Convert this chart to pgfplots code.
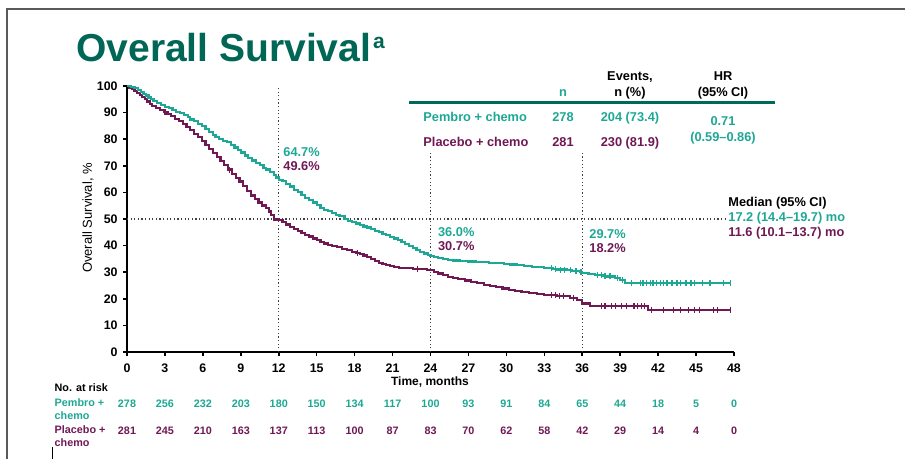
\documentclass[border=0pt]{standalone}
\usepackage{fontspec}
\setmainfont{Liberation Sans}
\usepackage{pgfplots}
\pgfplotsset{compat=1.18}

\definecolor{pembro}{RGB}{28,168,148}
\definecolor{placebo}{RGB}{112,24,84}
\definecolor{titlegreen}{RGB}{0,102,85}
\definecolor{rulegreen}{RGB}{0,104,92}
\definecolor{framegray}{RGB}{90,90,90}

\newcommand{\fs}[1]{\fontsize{#1}{#1}\selectfont}

\begin{document}
\begin{tikzpicture}
\path[use as bounding box] (0pt,0pt) rectangle (452.5pt,229.5pt);
% slide frame
\draw[framegray, line width=1pt] (3.35pt,0pt) -- (3.35pt,225pt) -- (452.5pt,225pt);
\draw[black, line width=0.5pt] (26.15pt,0pt) -- (26.15pt,6pt);

% title
\node[anchor=base west, inner sep=0pt, text=titlegreen, font=\fs{19.5}\bfseries]
  at (38pt,198.6pt) {Overall Survival\hspace{1pt}\raisebox{6.7pt}{\fs{10.5}a}};

\begin{axis}[
  at={(63.5pt,53.5pt)}, anchor=south west,
  scale only axis, width=303.5pt, height=133pt,
  xmin=0, xmax=48, ymin=0, ymax=100,
  axis lines=left,
  axis line style={-, line width=0.8pt, black},
  xtick={0,3,...,48}, ytick={0,10,...,100},
  tick align=outside, major tick length=2pt,
  tick style={line width=0.8pt, black},
  /pgf/number format/assume math mode=true,
  xticklabel style={font=\fs{6.2}\bfseries, anchor=base, inner sep=0pt, yshift=-8.4pt},
  yticklabel style={font=\fs{6.2}\bfseries, anchor=east, inner sep=0pt, xshift=-2.5pt},
  clip=false,
]
% reference lines
\draw[black!75, line width=0.6pt, dash pattern=on 0.6pt off 1.2pt] (axis cs:0,50) -- (axis cs:47.3,50);
\draw[black!75, line width=0.6pt, dash pattern=on 0.6pt off 1.2pt] (axis cs:12,0) -- (axis cs:12,100);
\draw[black!75, line width=0.6pt, dash pattern=on 0.6pt off 1.2pt] (axis cs:24,0) -- (axis cs:24,75);
\draw[black!75, line width=0.6pt, dash pattern=on 0.6pt off 1.2pt] (axis cs:36,0) -- (axis cs:36,75);

% Placebo + chemo
\addplot[const plot, placebo, line width=1.1pt] coordinates {
(0,100) (0.2,99.3) (0.4,98.8) (0.6,98.0) (0.8,97.3) (1.0,96.6) (1.2,95.8)
(1.4,95.0) (1.6,94.2) (1.8,93.3) (2.0,92.6) (2.3,91.8) (2.6,91.0) (2.9,90.2)
(3.2,89.4) (3.5,88.6) (3.8,87.6) (4.1,86.8) (4.4,85.8) (4.7,84.7) (5.0,83.5)
(5.3,82.1) (5.6,80.8) (5.9,79.4) (6.2,77.9) (6.5,76.3) (6.8,74.8) (7.1,73.2)
(7.4,71.8) (7.7,70.3) (8.0,68.6) (8.3,66.9) (8.6,65.4) (8.9,64.1) (9.2,62.5)
(9.5,60.6) (9.8,58.8) (10.1,57.4) (10.4,56.2) (10.7,55.1) (11.0,54.0)
(11.2,52.8) (11.4,51.6) (11.6,49.8) (12.0,49.6) (12.3,48.8) (12.6,47.9)
(12.9,47.1) (13.2,46.3) (13.5,45.6) (13.8,44.8) (14.1,44.1) (14.4,43.4)
(14.7,42.7) (15.0,42.0) (15.3,41.4) (15.6,40.8) (15.9,40.3) (16.2,39.9)
(16.6,39.4) (17.0,38.8) (17.4,38.2) (17.8,37.7) (18.1,37.3) (18.4,36.9)
(18.7,36.3) (19.0,35.6) (19.3,34.9) (19.6,34.2) (19.9,33.6) (20.2,33.0)
(20.5,32.6) (20.8,32.2) (21.1,31.9) (21.5,31.7) (22.0,31.5) (22.6,31.3)
(23.2,31.1) (23.7,30.9) (24.0,30.7) (24.3,30.0) (24.6,29.5) (25.0,28.8)
(25.4,28.3) (25.8,27.9) (26.2,27.4) (26.7,26.9) (27.2,26.3) (27.7,25.8)
(28.2,25.3) (28.7,24.9) (29.2,24.4) (29.7,23.9) (30.2,23.4) (30.7,22.9)
(31.2,22.6) (31.8,22.2) (32.4,21.9) (33.0,21.5) (34.0,21.0) (35.0,20.2)
(35.6,19.5) (36.0,18.2) (36.6,17.3) (41.0,17.3) (41.2,15.8) (47.7,15.8)
};
% Pembro + chemo
\addplot[const plot, pembro, line width=1.1pt] coordinates {
(0,100) (0.3,99.6) (0.6,99.3) (0.9,98.6) (1.1,97.8) (1.3,97.1) (1.5,96.4)
(1.7,95.7) (1.9,95.0) (2.1,94.3) (2.4,93.6) (2.7,92.9) (3.0,92.1) (3.3,91.6)
(3.6,91.0) (3.9,90.3) (4.2,89.9) (4.5,89.2) (4.8,88.2) (5.0,87.4) (5.3,86.7)
(5.6,85.8) (5.9,84.9) (6.2,83.8) (6.5,82.7) (6.8,81.6) (7.0,80.8) (7.3,80.1)
(7.6,79.4) (7.9,78.8) (8.2,77.9) (8.5,76.9) (8.8,75.9) (9.0,75.0) (9.3,73.9)
(9.6,72.9) (9.9,72.0) (10.2,71.2) (10.5,70.3) (10.8,69.3) (11.0,68.6)
(11.3,67.6) (11.6,66.5) (11.8,65.6) (12.0,64.7) (12.3,64.2) (12.6,63.2)
(12.9,62.2) (13.2,61.0) (13.5,60.0) (13.8,58.9) (14.1,57.9) (14.4,57.1)
(14.7,56.2) (15.0,55.2) (15.3,54.2) (15.6,53.5) (15.9,53.0) (16.2,52.4)
(16.5,51.6) (16.8,51.0) (17.2,50.0) (17.5,49.3) (17.8,48.8) (18.1,48.3)
(18.4,47.7) (18.7,47.2) (19.0,46.8) (19.3,46.1) (19.6,45.6) (19.9,45.0)
(20.2,44.4) (20.5,43.9) (20.8,43.3) (21.1,42.7) (21.4,42.1) (21.7,41.4)
(22.0,40.6) (22.3,39.8) (22.6,39.0) (22.9,38.3) (23.2,37.6) (23.5,37.0)
(23.8,36.4) (24.0,36.0) (24.3,35.7) (24.6,35.3) (25.0,35.0) (25.4,34.6)
(25.8,34.4) (26.3,34.2) (27.0,34.0) (27.6,33.9) (28.0,33.8) (28.6,33.6)
(29.2,33.4) (29.8,33.1) (30.3,32.9) (30.8,32.7) (31.4,32.4) (32.0,32.1)
(32.5,31.9) (33.0,31.6) (33.7,31.3) (34.0,31.0) (34.8,30.7) (35.2,30.5)
(35.8,30.1) (36.0,29.7) (36.5,29.3) (37.0,28.9) (37.6,28.6) (38.0,28.4)
(38.6,27.7) (39.0,27.0) (39.4,25.8) (47.7,25.8)
};
% censored observations
\addplot[only marks, mark=|, mark size=1.5pt, mark options={line width=0.6pt}, placebo] coordinates {
(3.0,90.2) (8.1,68.6) (18.2,37.3) (23.0,31.3)
(33.6,21.5) (33.9,21.5) (34.2,21.0) (34.5,21.0) (35.3,20.2)
(37.5,17.3) (37.8,17.3) (38.3,17.3) (38.6,17.3) (39.1,17.3) (39.5,17.3)
(40.1,17.3) (40.4,17.3) (40.7,17.3) (40.9,17.3)
(41.5,15.8) (42.4,15.8) (43.2,15.8) (43.8,15.8) (44.4,15.8) (44.9,15.8)
(45.3,15.8) (46.4,15.8) (46.7,15.8) (47.7,15.8)
};
\addplot[only marks, mark=|, mark size=1.5pt, mark options={line width=0.6pt}, pembro] coordinates {
(33.6,31.6) (33.9,31.3) (34.3,31.0) (34.6,31.0) (35.1,30.7) (35.5,30.5) (35.9,30.1)
(37.2,28.9) (37.5,28.9) (37.8,28.6) (38.2,28.4) (38.8,27.7) (39.2,27.0)
(39.9,25.8) (40.6,25.8) (40.8,25.8) (41.1,25.8) (41.4,25.8) (41.6,25.8)
(41.9,25.8) (42.2,25.8) (42.4,25.8) (42.7,25.8) (43.1,25.8) (43.5,25.8)
(43.8,25.8) (44.2,25.8) (44.6,25.8) (44.9,25.8) (45.5,25.8) (46.1,25.8)
(47.2,25.8) (47.7,25.8)
};
\end{axis}

% axis titles
\node[rotate=90, inner sep=0pt, font=\fs{6.5}] at (44pt,120.5pt) {Overall Survival, \%};
\node[anchor=base, inner sep=0pt, font=\fs{6}\bfseries] at (215pt,36.85pt) {Time, months};

% landmark annotations
\begin{scope}[every node/.style={anchor=base west, inner sep=0pt, font=\fs{6.4}\bfseries}]
\node[text=pembro]  at (141.5pt,151.2pt) {64.7\%};
\node[text=placebo] at (141.5pt,144.2pt) {49.6\%};
\node[text=pembro]  at (218.85pt,111.2pt) {36.0\%};
\node[text=placebo] at (218.85pt,104.35pt) {30.7\%};
\node[text=pembro]  at (294.5pt,110.2pt) {29.7\%};
\node[text=placebo] at (294.5pt,103.2pt) {18.2\%};
\node[text=black]   at (364pt,126.35pt) {Median (95\% CI)};
\node[text=pembro]  at (364pt,118.85pt) {17.2 (14.4--19.7) mo};
\node[text=placebo] at (364pt,111.05pt) {11.6 (10.1--13.7) mo};
\node[text=pembro]  at (211.5pt,168.85pt) {Pembro + chemo};
\node[text=placebo] at (211.5pt,156.35pt) {Placebo + chemo};
\end{scope}

% summary table
\begin{scope}[every node/.style={anchor=base, inner sep=0pt, font=\fs{6.4}\bfseries}]
\node at (315pt,189.35pt) {Events,};
\node at (315pt,181.2pt) {n (\%)};
\node at (361.5pt,189.35pt) {HR};
\node at (361.5pt,181.2pt) {(95\% CI)};
\node[text=pembro] at (281.5pt,181.2pt) {n};
\node[text=pembro]  at (281.5pt,168.85pt) {278};
\node[text=pembro]  at (315pt,168.85pt) {204 (73.4)};
\node[text=placebo] at (281.5pt,156.35pt) {281};
\node[text=placebo] at (315pt,156.35pt) {230 (81.9)};
\node[text=pembro]  at (361.5pt,166.7pt) {0.71};
\node[text=pembro]  at (361.5pt,158.55pt) {(0.59--0.86)};
\end{scope}
\draw[rulegreen, line width=1.25pt] (204.5pt,178.15pt) -- (387.5pt,178.15pt);

% number at risk
\begin{scope}[every node/.style={anchor=base west, inner sep=0pt, font=\fs{5.4}\bfseries}]
\node[text=black]   at (27.15pt,33.8pt) {No. at risk};
\node[text=pembro]  at (27.15pt,26.4pt) {Pembro +};
\node[text=pembro]  at (27.15pt,19.6pt) {chemo};
\node[text=placebo] at (27.15pt,12.55pt) {Placebo +};
\node[text=placebo] at (27.15pt,6.0pt) {chemo};
\end{scope}
\foreach \v [count=\i from 0] in {278,256,232,203,180,150,134,117,100,93,91,84,65,44,18,5,0}
  \node[anchor=base, inner sep=0pt, font=\fs{5.4}\bfseries, text=pembro] at ({63.5pt+\i*18.969pt},25.9pt) {\v};
\foreach \v [count=\i from 0] in {281,245,210,163,137,113,100,87,83,70,62,58,42,29,14,4,0}
  \node[anchor=base, inner sep=0pt, font=\fs{5.4}\bfseries, text=placebo] at ({63.5pt+\i*18.969pt},12.2pt) {\v};
\end{tikzpicture}
\end{document}
